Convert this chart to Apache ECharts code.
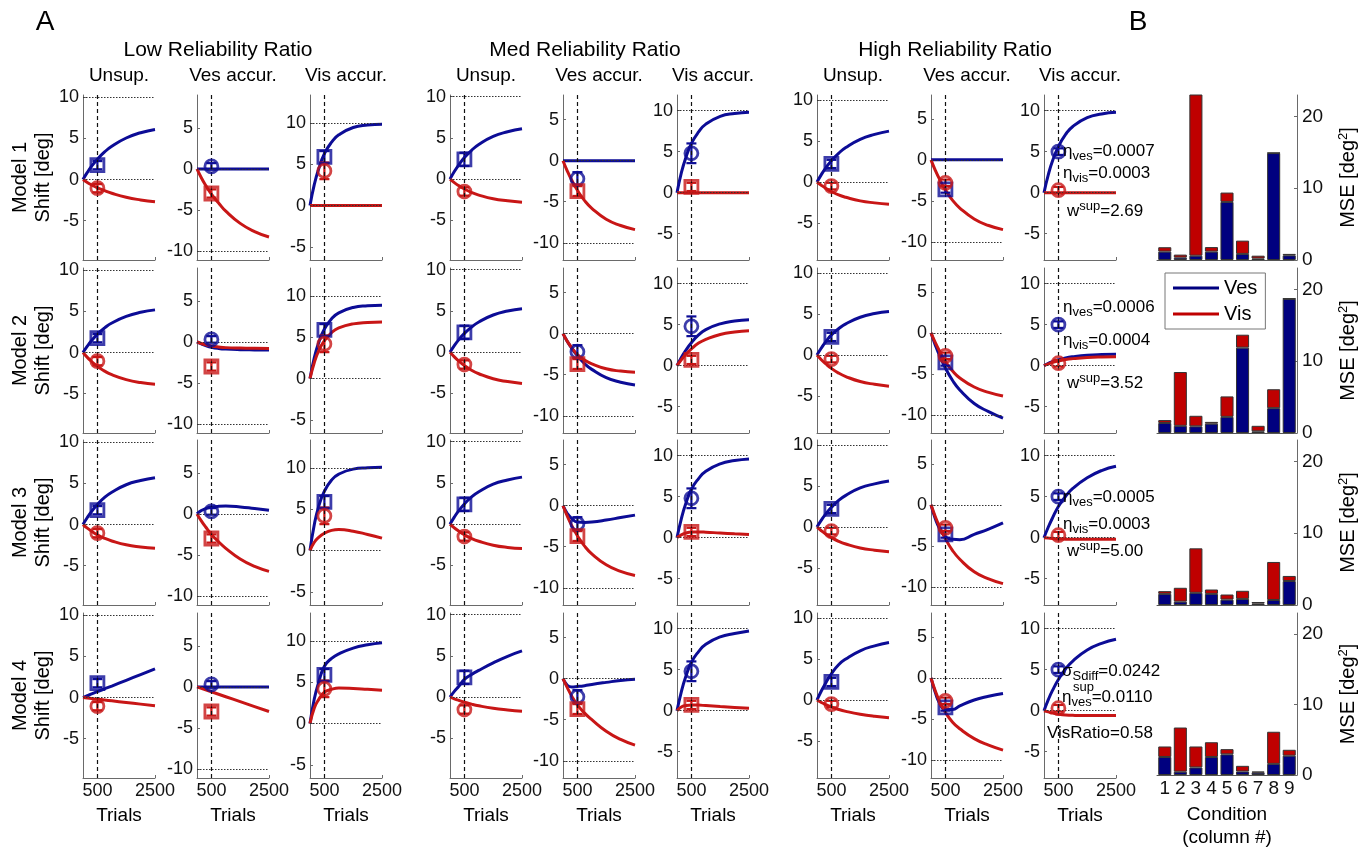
<!DOCTYPE html>
<html><head><meta charset="utf-8">
<script src="https://cdn.jsdelivr.net/npm/echarts@6/dist/echarts.min.js"></script>
<style>html,body{margin:0;padding:0;background:#fff}#c{width:1368px;height:850px}</style>
</head><body><div id="c"></div>
<script>
// ---------- DATA ----------
const trials = [0, 150, 300, 500, 750, 1000, 1500, 2000, 2500];
const models = ['Model 1', 'Model 2', 'Model 3', 'Model 4'];
const groupTitles = ['Low Reliability Ratio', 'Med Reliability Ratio', 'High Reliability Ratio'];
const panelTitles = ['Unsup.', 'Ves accur.', 'Vis accur.'];
const xTickLabels = [500, 2500];
const mseTickLabels = [0, 10, 20];

// panel order: Low(Unsup, Ves, Vis), Med(Unsup, Ves, Vis), High(Unsup, Ves, Vis)
const m1Ves = [
  [0,0.87,1.63,2.48,3.36,4.06,5.06,5.7,6.1],
  [0,0,0,0,0,0,0,0,0],
  [0,2.56,4.43,6.3,7.68,8.57,9.46,9.75,9.85],
  [0,0.92,1.71,2.62,3.5,4.2,5.19,5.74,6.1],
  [0,0,0,0,0,0,0,0,0],
  [0,2.4,4.2,6.0,7.4,8.35,9.3,9.65,9.8],
  [0,0.9,1.7,2.6,3.5,4.2,5.2,5.8,6.2],
  [0,0,0,0,0,0,0,0,0],
  [0,2.2,3.91,5.62,7.09,8.07,9.13,9.59,9.8]
];
const m1Vis = [
  [0,-0.35,-0.65,-1.0,-1.35,-1.67,-2.16,-2.48,-2.7],
  [0,-1.08,-2.0,-3.07,-4.15,-5.15,-6.64,-7.64,-8.3],
  [0,0,0,0,0,0,0,0,0],
  [0,-0.42,-0.78,-1.2,-1.62,-1.93,-2.38,-2.63,-2.8],
  [0,-1.26,-2.35,-3.61,-4.87,-5.8,-7.14,-7.9,-8.4],
  [0,0,0,0,0,0,0,0,0],
  [0,-0.4,-0.75,-1.15,-1.57,-1.86,-2.3,-2.54,-2.7],
  [0,-1.28,-2.38,-3.66,-4.93,-5.87,-7.2,-8.0,-8.5],
  [0,0,0,0,0,0,0,0,0]
];
const m2Ves = [
  [0,0.78,1.46,2.24,3.0,3.6,4.4,4.9,5.2],
  [0,-0.25,-0.45,-0.65,-0.8,-0.88,-0.95,-0.98,-1.0],
  [0,2.53,4.35,6.0,7.25,7.97,8.62,8.83,8.9],
  [0,0.8,1.49,2.28,3.05,3.65,4.5,4.98,5.25],
  [0,-0.95,-1.76,-2.7,-3.65,-4.35,-5.36,-5.92,-6.25],
  [0,1.0,1.85,2.8,3.75,4.4,5.1,5.45,5.6],
  [0,0.85,1.6,2.45,3.2,3.8,4.6,5.05,5.3],
  [0,-1.5,-2.8,-4.3,-5.8,-6.95,-8.6,-9.6,-10.4],
  [0,0.28,0.5,0.73,0.95,1.09,1.27,1.36,1.4]
];
const m2Vis = [
  [0,-0.59,-1.09,-1.68,-2.26,-2.7,-3.3,-3.66,-3.85],
  [0,-0.2,-0.35,-0.5,-0.62,-0.7,-0.76,-0.79,-0.8],
  [0,1.95,3.35,4.6,5.58,6.13,6.63,6.8,6.85],
  [0,-0.57,-1.06,-1.63,-2.2,-2.62,-3.23,-3.57,-3.8],
  [0,-0.94,-1.69,-2.55,-3.2,-3.67,-4.28,-4.56,-4.7],
  [0,0.72,1.35,2.05,2.75,3.2,3.8,4.1,4.25],
  [0,-0.57,-1.06,-1.63,-2.2,-2.62,-3.23,-3.57,-3.8],
  [0,-1.2,-2.25,-3.5,-4.65,-5.5,-6.6,-7.25,-7.7],
  [0,0.22,0.4,0.57,0.75,0.86,1.0,1.07,1.1]
];
const m3Ves = [
  [0,0.86,1.6,2.45,3.3,3.93,4.85,5.36,5.7],
  [0,0.4,0.65,0.82,0.92,0.95,0.85,0.65,0.45],
  [0,3.16,5.33,7.2,8.55,9.27,9.87,10.03,10.1],
  [0,0.86,1.6,2.45,3.3,3.93,4.85,5.36,5.7],
  [0,-0.95,-1.55,-2.0,-2.05,-2.0,-1.75,-1.45,-1.15],
  [0,2.3,4.1,5.9,7.2,8.1,9.0,9.4,9.6],
  [0,0.84,1.57,2.4,3.25,3.86,4.76,5.26,5.6],
  [0,-1.7,-2.9,-3.9,-4.2,-4.25,-3.6,-2.95,-2.2],
  [0,1.3,2.44,3.8,5.05,6.0,7.3,8.18,8.7]
];
const m3Vis = [
  [0,-0.44,-0.81,-1.25,-1.68,-2.0,-2.47,-2.73,-2.9],
  [0,-0.85,-1.6,-2.5,-3.4,-4.2,-5.5,-6.4,-7.0],
  [0,1.0,1.6,2.1,2.45,2.55,2.35,1.95,1.5],
  [0,-0.45,-0.84,-1.29,-1.74,-2.07,-2.55,-2.82,-2.95],
  [0,-1.28,-2.4,-3.66,-4.93,-5.87,-7.2,-8.0,-8.5],
  [0,0.35,0.55,0.68,0.7,0.67,0.57,0.48,0.4],
  [0,-0.45,-0.84,-1.29,-1.74,-2.07,-2.55,-2.82,-3.0],
  [0,-1.44,-2.69,-4.13,-5.57,-6.62,-8.16,-9.02,-9.6],
  [0,-0.05,-0.1,-0.15,-0.18,-0.2,-0.2,-0.2,-0.2]
];
const m4Ves = [
  [0,0.22,0.44,0.72,1.06,1.4,2.1,2.8,3.5],
  [0,0,0,0,0,0,0,0,0],
  [0,3.0,5.0,6.95,7.9,8.45,9.15,9.55,9.8],
  [0,0.7,1.3,2.15,2.75,3.25,4.15,4.95,5.6],
  [0,-0.8,-1.0,-0.95,-0.85,-0.7,-0.45,-0.22,-0.08],
  [0,2.3,4.1,5.9,7.2,8.1,9.0,9.4,9.7],
  [0,1.1,2.05,3.2,4.3,5.0,6.0,6.6,7.0],
  [0,-1.8,-3.1,-3.85,-3.85,-3.4,-2.7,-2.25,-1.9],
  [0,1.35,2.5,3.8,5.1,6.05,7.4,8.2,8.7]
];
const m4Vis = [
  [0,-0.06,-0.12,-0.2,-0.3,-0.4,-0.6,-0.8,-1.0],
  [0,-0.18,-0.36,-0.6,-0.9,-1.2,-1.8,-2.4,-3.0],
  [0,1.9,2.9,3.8,4.15,4.3,4.25,4.15,4.05],
  [0,-0.2,-0.38,-0.6,-0.85,-1.05,-1.35,-1.55,-1.7],
  [0,-1.1,-2.1,-3.2,-4.2,-5.0,-6.4,-7.4,-8.1],
  [0,0.45,0.62,0.7,0.68,0.62,0.5,0.4,0.3],
  [0,-0.3,-0.55,-0.85,-1.15,-1.38,-1.73,-1.98,-2.15],
  [0,-1.6,-2.9,-4.2,-5.4,-6.2,-7.4,-8.2,-8.8],
  [0,-0.15,-0.3,-0.42,-0.52,-0.57,-0.6,-0.6,-0.6]
];
// observed shifts at trial 500: [mean, half error bar] per panel column
const obsVes = [[1.75,0.5],[0.3,0.4],[5.9,0.7],[2.4,0.8],[-2.2,0.8],[4.8,1.2],[2.2,0.5],[-3.6,0.4],[5.0,0.4]];
const obsVis = [[-1.05,0.5],[-3.0,0.5],[4.2,1.0],[-1.5,0.5],[-3.7,0.6],[0.7,0.5],[-0.5,0.4],[-2.8,0.4],[0.3,0.4]];
const yLimits = [[-9.8,10.3],[-11.1,9],[-6.6,13.4],[-9.8,10.2],[-12.1,8],[-8.2,11.9],[-9.5,10.6],[-12.2,7.9],[-8.2,11.9]];
// MSE per condition (stacked)
const conditions = ['1','2','3','4','5','6','7','8','9'];
const mseVes = [
  [1.17,0.33,0.6,1.17,8.1,0.85,0.2,14.9,0.65],
  [1.4,1.0,0.93,1.3,2.25,11.9,0.23,3.46,18.7],
  [1.55,0.47,1.7,1.55,0.75,0.85,0.2,0.7,3.34],
  [2.56,0.47,1.07,2.56,2.93,0.5,0.33,1.58,2.74]
];
const mseVis = [
  [0.61,0.42,22.9,0.63,1.3,1.85,0.4,0.05,0.2],
  [0.4,7.5,1.47,0.25,2.85,1.8,0.77,2.64,0.05],
  [0.38,1.93,6.2,0.61,0.71,1.13,0.22,5.3,0.71],
  [1.49,6.27,2.98,2.09,0.74,0.8,0.17,4.56,0.84]
];
const paramText = [
  ['{g|η}{sub|ves}{g|=0.0007}', '{g|η}{sub|vis}{g|=0.0003}', '{g|w}{sup|sup}{g|=2.69}'],
  ['{g|η}{sub|ves}{g|=0.0006}', '{g|η}{sub|vis}{g|=0.0004}', '{g|w}{sup|sup}{g|=3.52}'],
  ['{g|η}{sub|ves}{g|=0.0005}', '{g|η}{sub|vis}{g|=0.0003}', '{g|w}{sup|sup}{g|=5.00}'],
  ['{g|σ}{sub|Sdiff}{g|=0.0242}', '{g|η}{sub|ves}{g|=0.0110}', '{g|VisRatio=0.58}']
];

// ---------- LAYOUT / STYLE ----------
const FONT = '"Liberation Sans", Arial, Helvetica, sans-serif';
const BLUE = '#0c0c96', RED = '#c81616';
const BAR_BLUE = '#00007f', BAR_RED = '#bf0000';
const AXC = '#6a6a6a';
const gridLefts = [83,197,310,450,563,677,817,931,1044];
const rowTops = [95,268,440,613];
const PW = 72, PH = 165;
const symVes = ['rect','circle','rect','rect','circle','circle','rect','rect','circle'];
const symVis = ['circle','rect','circle','circle','rect','rect','circle','circle','circle'];
const curvesVes = [m1Ves, m2Ves, m3Ves, m4Ves];
const curvesVis = [m1Vis, m2Vis, m3Vis, m4Vis];

function errRender(params, api) {
  const x = api.value(0), lo = api.value(1), hi = api.value(2);
  const c = api.value(3) === 0 ? BLUE : RED;
  const p1 = api.coord([x, lo]), p2 = api.coord([x, hi]);
  const w = 5;
  const st = {stroke: c, lineWidth: 2.2};
  return {type: 'group', children: [
    {type: 'line', shape: {x1: p1[0], y1: p1[1], x2: p2[0], y2: p2[1]}, style: st},
    {type: 'line', shape: {x1: p1[0]-w, y1: p1[1], x2: p1[0]+w, y2: p1[1]}, style: st},
    {type: 'line', shape: {x1: p2[0]-w, y1: p2[1], x2: p2[0]+w, y2: p2[1]}, style: st}
  ]};
}

const grids = [], xAxes = [], yAxes = [], series = [], graphics = [];
let g = 0;
for (let r = 0; r < 4; r++) {
  const bottom = r === 3;
  for (let c = 0; c < 9; c++) {
    grids.push({left: gridLefts[c], top: rowTops[r], width: PW, height: PH});
    const kind = c % 3;
    const ticks = kind === 1 ? [-10,-5,0,5] : [-5,0,5,10];
    const refs = kind === 1 ? [0,-10] : [0,10];
    xAxes.push({
      gridIndex: g, type: 'value', min: 0, max: 2500,
      axisLine: {show: true, onZero: false, lineStyle: {color: AXC, width: 1}},
      axisTick: {show: true, inside: true, length: 3, customValues: xTickLabels, lineStyle: {color: AXC}},
      axisLabel: {show: bottom, customValues: xTickLabels, formatter: v => String(v),
        fontSize: 18, color: '#111', fontFamily: FONT, margin: 4},
      splitLine: {show: false},
      name: bottom ? 'Trials' : '', nameLocation: 'middle', nameGap: 28,
      nameTextStyle: {fontSize: 19, color: '#000', fontFamily: FONT}
    });
    yAxes.push({
      gridIndex: g, type: 'value', min: yLimits[c][0], max: yLimits[c][1],
      axisLine: {show: true, onZero: false, lineStyle: {color: AXC, width: 1}},
      axisTick: {show: true, inside: true, length: 3, customValues: ticks, lineStyle: {color: AXC}},
      axisLabel: {customValues: ticks, fontSize: 18, color: '#111', fontFamily: FONT, margin: 4},
      splitLine: {show: false}
    });
    const ml = [{xAxis: 500, lineStyle: {color: '#111', type: [4,3], width: 1.2}}]
      .concat(refs.map(v => ({yAxis: v, lineStyle: {color: '#333', type: [1.5,1.5], width: 1}})));
    series.push({type: 'line', xAxisIndex: g, yAxisIndex: g, data: [], z: 1, silent: true,
      markLine: {silent: true, symbol: 'none', label: {show: false}, animation: false, data: ml}});
    const vv = curvesVes[r][c], vs = curvesVis[r][c];
    series.push({type: 'line', xAxisIndex: g, yAxisIndex: g, z: 3, silent: true,
      data: trials.map((t,k) => [t, vv[k]]), smooth: 0.5, showSymbol: false,
      lineStyle: {color: BLUE, width: 3}, itemStyle: {color: BLUE}});
    series.push({type: 'line', xAxisIndex: g, yAxisIndex: g, z: 3, silent: true,
      data: trials.map((t,k) => [t, vs[k]]), smooth: 0.5, showSymbol: false,
      lineStyle: {color: RED, width: 3}, itemStyle: {color: RED}});
    const ob = obsVes[c], orr = obsVis[c];
    series.push({type: 'custom', xAxisIndex: g, yAxisIndex: g, z: 4, silent: true, renderItem: errRender,
      data: [[500, ob[0]-ob[1], ob[0]+ob[1], 0], [500, orr[0]-orr[1], orr[0]+orr[1], 1]]});
    series.push({type: 'scatter', xAxisIndex: g, yAxisIndex: g, z: 5, silent: true, symbolSize: 13,
      itemStyle: {color: 'rgba(255,255,255,0)', borderWidth: 2.8},
      data: [
        {value: [500, ob[0]], symbol: symVes[c], itemStyle: {borderColor: BLUE}},
        {value: [500, orr[0]], symbol: symVis[c], itemStyle: {borderColor: RED}}
      ]});
    g++;
  }
  // bar chart (column B)
  grids.push({left: 1157, top: rowTops[r], width: 140, height: PH});
  xAxes.push({
    gridIndex: g, type: 'category', data: conditions,
    axisLine: {show: true, onZero: false, lineStyle: {color: '#555', width: 1}},
    axisTick: {show: false},
    axisLabel: {show: bottom, fontSize: 19, color: '#111', fontFamily: FONT, margin: 4},
    name: bottom ? 'Condition\n(column #)' : '', nameLocation: 'middle', nameGap: 28,
    nameTextStyle: {fontSize: 19, color: '#000', fontFamily: FONT, lineHeight: 23, verticalAlign: 'top'}
  });
  yAxes.push({
    gridIndex: g, type: 'value', position: 'right', min: 0, max: 23,
    axisLine: {show: true, onZero: false, lineStyle: {color: AXC, width: 1}},
    axisTick: {show: true, inside: true, length: 3, customValues: mseTickLabels, lineStyle: {color: AXC}},
    axisLabel: {customValues: mseTickLabels, fontSize: 19, color: '#111', fontFamily: FONT, margin: 5},
    splitLine: {show: false},
    name: '{a|MSE [deg}{s|2}{a|]}', nameLocation: 'middle', nameRotate: 90, nameGap: 40,
    nameTextStyle: {rich: {a: {fontSize: 20, fontFamily: FONT, color: '#000'},
                            s: {fontSize: 13, fontFamily: FONT, color: '#000', padding: [0,0,10,0]}}}
  });
  series.push({type: 'bar', name: 'Ves', xAxisIndex: g, yAxisIndex: g, stack: 'mse' + r,
    data: mseVes[r], barCategoryGap: '16%', silent: true,
    itemStyle: {color: BAR_BLUE, borderColor: '#333', borderWidth: 1}});
  series.push({type: 'bar', name: 'Vis', xAxisIndex: g, yAxisIndex: g, stack: 'mse' + r,
    data: mseVis[r], barCategoryGap: '16%', silent: true,
    itemStyle: {color: BAR_RED, borderColor: '#333', borderWidth: 1}});
  g++;
}

// ---------- TEXT ----------
function txt(x, y, text, size, extra) {
  return Object.assign({type: 'text', x: x, y: y, silent: true, z: 50,
    style: Object.assign({text: text, fontSize: size, fontFamily: FONT, fill: '#000',
      align: 'center', verticalAlign: 'middle', textAlign: 'center', textVerticalAlign: 'middle'}, extra && extra.style || {})},
    extra && extra.el || {});
}
graphics.push(txt(45, 22, 'A', 28));
graphics.push(txt(1138, 22, 'B', 28));
const groupCenters = [218, 585, 955];
groupTitles.forEach((t,i) => graphics.push(txt(groupCenters[i], 50, t, 21)));
for (let c = 0; c < 9; c++) graphics.push(txt(gridLefts[c] + PW/2, 76, panelTitles[c % 3], 19));
models.forEach((m, r) => {
  const cy = rowTops[r] + PH/2;
  graphics.push(txt(20, cy, m, 20, {el: {rotation: Math.PI/2}}));
  graphics.push(txt(43, cy, 'Shift [deg]', 20, {el: {rotation: Math.PI/2}}));
});
const richP = {
  g: {fontSize: 17, fontFamily: FONT, fill: '#000', color: '#000'},
  sub: {fontSize: 13, fontFamily: FONT, fill: '#000', color: '#000', padding: [10,0,0,0]},
  sup: {fontSize: 13, fontFamily: FONT, fill: '#000', color: '#000', padding: [0,0,10,0]}
};
const paramPos = [
  [[1063,151],[1063,173],[1067,211]],
  [[1063,307],[1063,340],[1067,383]],
  [[1063,497],[1063,524],[1067,551]],
  [[1062,671],[1062,697],[1047,733]]
];
paramText.forEach((row, r) => row.forEach((t, k) => {
  graphics.push({type: 'text', x: paramPos[r][k][0], y: paramPos[r][k][1], silent: true, z: 50,
    style: {text: t, rich: richP, align: 'left', verticalAlign: 'middle', textAlign: 'left', textVerticalAlign: 'middle'}});
}));
graphics.push({type: 'text', x: 1073, y: 687, silent: true, z: 50,
  style: {text: 'sup', fontSize: 13, fontFamily: FONT, fill: '#000', align: 'left', verticalAlign: 'middle', textAlign: 'left', textVerticalAlign: 'middle'}});

const chart = echarts.init(document.getElementById('c'), null, {renderer: 'canvas'});
chart.setOption({
  animation: false,
  backgroundColor: '#fff',
  textStyle: {fontFamily: FONT},
  grid: grids, xAxis: xAxes, yAxis: yAxes, series: series,
  legend: {
    data: ['Ves', 'Vis'], orient: 'vertical', left: 1165, top: 273,
    icon: 'rect', itemWidth: 46, itemHeight: 3, itemGap: 6,
    itemStyle: {borderWidth: 0},
    textStyle: {fontSize: 20, color: '#000', fontFamily: FONT},
    borderColor: '#777', borderWidth: 1, backgroundColor: '#fff',
    padding: [5, 8, 5, 8], selectedMode: false, z: 20
  },
  graphic: {elements: graphics}
});
</script>
</body></html>
